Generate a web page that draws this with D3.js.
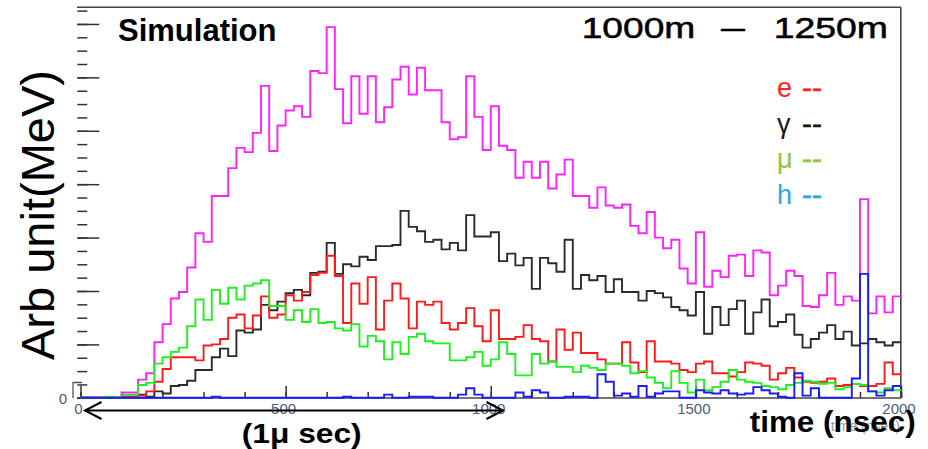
<!DOCTYPE html>
<html>
<head>
<meta charset="utf-8">
<script src="https://cdn.jsdelivr.net/npm/d3@7"></script>
<style>
  html, body { margin: 0; padding: 0; background: #fff; }
  svg { display: block; }
</style>
</head>
<body>
<svg id="chart" width="928" height="449"></svg>
<script>
// Energy deposit per 20 ns time bin (arbitrary units), 0–2000 ns, 100 bins
const binWidth = 20;
const timeTicks = [0, 500, 1000, 1500, 2000];

const totalDeposit = [
  0, 0, 0, 0, 0, 5, 5, 17, 23, 52,
  69, 93, 99, 122, 154, 146, 189, 189, 215, 234,
  230, 248, 292, 231, 255, 269, 273, 263, 306, 304,
  347, 289, 257, 301, 266, 301, 258, 272, 298, 310,
  284, 309, 288, 288, 258, 242, 244, 301, 263, 232,
  273, 236, 232, 206, 221, 206, 221, 196, 209, 223,
  189, 189, 178, 197, 180, 178, 181, 161, 154, 174,
  150, 140, 148, 121, 107, 155, 104, 119, 113, 133,
  134, 114, 138, 136, 96, 105, 119, 114, 86, 85,
  96, 117, 87, 95, 91, 186, 79, 95, 80, 95
];
const gammaDeposit = [
  0, 0, 0, 0, 0, 1, 1, 3, 1, 6,
  4, 11, 12, 16, 26, 26, 38, 46, 39, 63,
  61, 64, 87, 82, 90, 98, 101, 96, 117, 118,
  145, 116, 125, 123, 132, 129, 142, 142, 143, 175,
  160, 156, 146, 148, 139, 145, 138, 171, 151, 151,
  155, 128, 135, 124, 131, 102, 131, 126, 118, 148,
  102, 115, 110, 114, 99, 111, 99, 99, 91, 100,
  98, 94, 85, 82, 77, 99, 60, 85, 68, 83,
  91, 60, 80, 92, 67, 71, 78, 59, 47, 55,
  61, 68, 55, 62, 49, 51, 55, 52, 49, 52
];
const electronDeposit = [
  0, 0, 0, 0, 0, 1, 1, 2, 6, 15,
  27, 38, 38, 38, 35, 49, 50, 55, 75, 78,
  65, 77, 95, 75, 78, 96, 91, 99, 115, 117,
  133, 114, 70, 107, 88, 113, 64, 91, 107, 93,
  65, 90, 87, 90, 70, 64, 70, 84, 67, 53,
  82, 55, 55, 57, 68, 55, 53, 34, 64, 45,
  61, 42, 42, 36, 32, 32, 52, 33, 24, 53,
  34, 34, 32, 26, 24, 32, 34, 23, 23, 20,
  24, 33, 32, 30, 17, 23, 28, 19, 15, 14,
  15, 18, 11, 12, 13, 11, 11, 13, 33, 22
];
const muonDeposit = [
  0, 0, 0, 1, 0, 3, 3, 12, 14, 32,
  38, 43, 47, 67, 92, 73, 101, 88, 103, 92,
  105, 107, 110, 86, 86, 73, 82, 71, 83, 70,
  71, 65, 63, 69, 48, 58, 53, 36, 52, 41,
  57, 60, 53, 51, 51, 35, 35, 38, 43, 30,
  36, 52, 41, 21, 21, 41, 32, 34, 29, 29,
  24, 30, 28, 26, 32, 32, 30, 23, 25, 19,
  14, 9, 25, 14, 5, 17, 7, 10, 15, 26,
  17, 15, 14, 11, 10, 8, 12, 14, 16, 15,
  13, 14, 8, 10, 13, 12, 6, 5, 9, 7
];
const hadronDeposit = [
  0, 0, 0, 0, 0, 0, 0, 0, 0, 0,
  0, 0, 0, 0, 0, 0, 1, 0, 0, 0,
  0, 0, 0, 0, 0, 0, 0, 0, 0, 0,
  0, 0, 1, 0, 0, 0, 0, 3, 0, 0,
  1, 1, 1, 0, 0, 0, 3, 9, 3, 0,
  0, 0, 0, 5, 1, 7, 5, 0, 0, 1,
  1, 1, 0, 22, 15, 2, 4, 1, 11, 1,
  4, 6, 6, 0, 0, 7, 5, 4, 7, 4,
  3, 4, 10, 7, 4, 1, 0, 23, 2, 9,
  0, 0, 0, 0, 18, 116, 6, 2, 7, 11
];

const legendLabels = ["e", "γ", "μ", "h"];
const legendColors = ["#ff2020", "#1a1a1a", "#8cc63f", "#2aa8e0"];

const svg = d3.select("#chart");
const FONT = "'Liberation Sans', Arial, Helvetica, sans-serif";

const x = d3.scaleLinear().domain([0, 2000]).range([80.5, 901]);
const y = d3.scaleLinear().domain([0, 365.6]).range([397.8, 7.3]);

// Frame: top and right edges
svg.append("line").attr("x1", 77).attr("x2", 901).attr("y1", 7.3).attr("y2", 7.3)
  .attr("stroke", "#444").attr("stroke-width", 1.6);
svg.append("line").attr("x1", 900.8).attr("x2", 900.8).attr("y1", 7.3).attr("y2", 398)
  .attr("stroke", "#444").attr("stroke-width", 1.6);
// Baseline
svg.append("line").attr("x1", 77).attr("x2", 901).attr("y1", 398).attr("y2", 398)
  .attr("stroke", "#444").attr("stroke-width", 1.4);
// small stub at the bottom of the vertical axis
svg.append("path").attr("d", "M73,398V382.5H82")
  .attr("fill", "none").attr("stroke", "#555").attr("stroke-width", 1.3);

// Vertical axis ticks (no labels except 0)
function styleTicks(g) {
  g.select(".domain").remove();
  g.selectAll(".tick line").attr("stroke", "#333").attr("stroke-width", 1.5);
  g.selectAll(".tick text").remove();
}
svg.append("g").attr("transform", "translate(77.3,0)")
  .call(d3.axisRight(y).tickValues(d3.range(0, 365, 12.5)).tickSize(10))
  .call(styleTicks);
svg.append("g").attr("transform", "translate(77.3,0)")
  .call(d3.axisRight(y).tickValues(d3.range(0, 365, 50)).tickSize(22))
  .call(styleTicks);

// Horizontal axis ticks, pointing up into the frame
svg.append("g").attr("transform", "translate(0,398)")
  .call(d3.axisBottom(x).tickValues(d3.range(0, 2001, 100)).tickSize(-6))
  .call(styleTicks);
svg.append("g").attr("transform", "translate(0,398)")
  .call(d3.axisBottom(x).tickValues(timeTicks).tickSize(-12))
  .call(styleTicks);

// Tick labels
svg.append("g").selectAll("text").data(timeTicks).join("text")
  .attr("x", d => x(d) - 2).attr("y", 413.5)
  .attr("text-anchor", "middle")
  .attr("font-family", FONT).attr("font-size", 15)
  .attr("fill", "#4a5c80")
  .text(d => d);
svg.append("text").attr("x", 63).attr("y", 403.5)
  .attr("text-anchor", "middle")
  .attr("font-family", FONT).attr("font-size", 15)
  .attr("fill", "#4a5c80").text("0");

// Histograms drawn as step outlines
const edges = d3.range(101).map(i => i * binWidth);
const stepLine = d3.line().x(d => x(d[0])).y(d => y(d[1])).curve(d3.curveStepAfter);
function stepPoints(values) {
  const pts = values.map((v, i) => [edges[i], v]);
  pts.push([edges[values.length], values[values.length - 1]]);
  return pts;
}
const series = [
  { values: totalDeposit, color: "#ff22ff" },
  { values: gammaDeposit, color: "#2b2b2b" },
  { values: electronDeposit, color: "#ff1a1a" },
  { values: muonDeposit, color: "#1ff01f" },
  { values: hadronDeposit, color: "#1a1aff" }
];
svg.append("g").selectAll("path").data(series).join("path")
  .attr("d", d => stepLine(stepPoints(d.values)))
  .attr("fill", "none")
  .attr("stroke", d => d.color)
  .attr("stroke-width", 1.9)
  .attr("stroke-linejoin", "miter");

// Titles
svg.append("text").attr("x", 118).attr("y", 40.7)
  .attr("font-family", FONT).attr("font-weight", "bold").attr("font-size", 31)
  .attr("fill", "#000").text("Simulation");

const rangeLabel = svg.append("g")
  .attr("font-family", FONT).attr("font-size", 29).attr("fill", "#000")
  .attr("stroke", "#000").attr("stroke-width", 0.5);
rangeLabel.append("text").attr("x", 581.7).attr("y", 37.7)
  .attr("textLength", 113.6).attr("lengthAdjust", "spacingAndGlyphs").text("1000m");
rangeLabel.append("text").attr("x", 721).attr("y", 37.7)
  .attr("textLength", 24).attr("lengthAdjust", "spacingAndGlyphs").text("—");
rangeLabel.append("text").attr("x", 773.7).attr("y", 37.7)
  .attr("textLength", 114.3).attr("lengthAdjust", "spacingAndGlyphs").text("1250m");

// Legend
const legend = svg.append("g").attr("font-family", FONT).attr("font-size", 27);
legendLabels.forEach((lab, i) => {
  const by = 97 + i * 35.5;
  legend.append("text").attr("x", 777).attr("y", by)
    .attr("fill", legendColors[i]).text(lab);
  legend.append("text").attr("x", 802).attr("y", by)
    .attr("textLength", 20).attr("lengthAdjust", "spacingAndGlyphs")
    .attr("stroke", legendColors[i]).attr("stroke-width", 0.6)
    .attr("fill", legendColors[i]).text("--");
});

// Vertical axis title
svg.append("text")
  .attr("transform", "translate(54,360) rotate(-90)")
  .attr("font-family", FONT).attr("font-size", 46)
  .attr("textLength", 290).attr("lengthAdjust", "spacingAndGlyphs")
  .attr("fill", "#000").text("Arb unit(MeV)");

// Horizontal axis titles
svg.append("text").attr("x", 900).attr("y", 431)
  .attr("text-anchor", "end")
  .attr("font-family", FONT).attr("font-size", 14)
  .attr("fill", "#9a9a9a").text("time (nsec)");
svg.append("text").attr("x", 749.7).attr("y", 432.2)
  .attr("font-family", FONT).attr("font-weight", "bold").attr("font-size", 29)
  .attr("textLength", 166).attr("lengthAdjust", "spacingAndGlyphs")
  .attr("fill", "#000").text("time (nsec)");

// One-microsecond span marker
const arrowY = 410.5;
const arrow = svg.append("g").attr("stroke", "#000").attr("stroke-width", 2).attr("fill", "none");
arrow.append("line").attr("x1", 85).attr("x2", 503).attr("y1", arrowY).attr("y2", arrowY);
arrow.append("polyline").attr("points", `101.5,${arrowY - 8.5} 85,${arrowY} 101.5,${arrowY + 8.5}`);
arrow.append("polyline").attr("points", `486.5,${arrowY - 8.5} 503,${arrowY} 486.5,${arrowY + 8.5}`);
svg.append("text").attr("x", 241.7).attr("y", 442.6)
  .attr("font-family", FONT).attr("font-weight", "bold").attr("font-size", 27)
  .attr("textLength", 120).attr("lengthAdjust", "spacingAndGlyphs")
  .attr("fill", "#000").text("(1μ sec)");
</script>
</body>
</html>
